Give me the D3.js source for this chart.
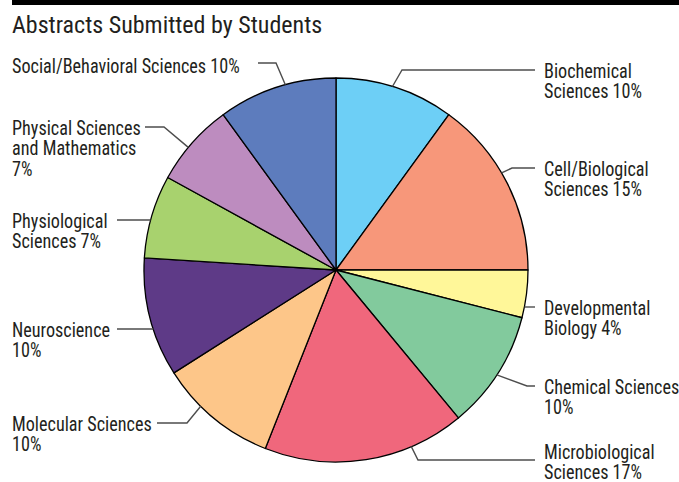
<!DOCTYPE html>
<html>
<head>
<meta charset="utf-8">
<script src="https://cdn.jsdelivr.net/npm/d3@7"></script>
<style>
  html, body { margin: 0; padding: 0; background: #fff; }
  svg text { font-family: "Liberation Sans Narrow", "Arial Narrow", "Roboto Condensed", sans-serif; fill: #231f20; }
</style>
</head>
<body>
<svg id="chart" width="679" height="482"></svg>
<script>
// Share of abstracts by field, clockwise from 12 o'clock
const categories = [
  "Biochemical Sciences", "Cell/Biological Sciences", "Developmental Biology",
  "Chemical Sciences", "Microbiological Sciences", "Molecular Sciences",
  "Neuroscience", "Physiological Sciences", "Physical Sciences and Mathematics",
  "Social/Behavioral Sciences"
];
const shares = [10, 15, 4, 10, 17, 10, 10, 7, 7, 10];
const labelLines = [
  ["Biochemical", "Sciences 10%"],
  ["Cell/Biological", "Sciences 15%"],
  ["Developmental", "Biology 4%"],
  ["Chemical Sciences", "10%"],
  ["Microbiological", "Sciences 17%"],
  ["Molecular Sciences", "10%"],
  ["Neuroscience", "10%"],
  ["Physiological", "Sciences 7%"],
  ["Physical Sciences", "and Mathematics", "7%"],
  ["Social/Behavioral Sciences 10%"]
];
const colors = ["#6dcff6", "#f7977a", "#fff799", "#82ca9d", "#f0677c",
                "#fdc689", "#5e3a87", "#a8d26e", "#bd8cbf", "#5d7cbd"];

// Leader layout: where each leader touches the rim (degrees clockwise from top),
// the height of its horizontal run, the elbow x, the far end of the run,
// and a vertical nudge for the label block.
const leaders = [
  { angle: 17.1,  y: 70,  elbowX: 402, endX: 535, side: "right", dy: 0 },
  { angle: 59.6,  y: 168, elbowX: 512, endX: 535, side: "right", dy: 0 },
  { angle: 101,   y: 307, elbowX: null, endX: 535, side: "right", dy: 0 },
  { angle: 123.1, y: 386, elbowX: 527, endX: 535, side: "right", dy: 0 },
  { angle: 156.9, y: 460, elbowX: 418, endX: 535, side: "right", dy: -9 },
  { angle: 224.8, y: 423, elbowX: 187, endX: 157, side: "left", dy: 0 },
  { angle: 252,   y: 329, elbowX: null, endX: 117, side: "left", dy: 0 },
  { angle: 285,   y: 220, elbowX: null, endX: 117, side: "left", dy: 0 },
  { angle: 309.7, y: 127, elbowX: 164, endX: 145, side: "left", dy: 0 },
  { angle: 344.7, y: 63,  elbowX: 276, endX: 258, side: "left", dy: 2 }
];

const svg = d3.select("#chart");
const cx = 336, cy = 270, radius = 192;
const labelSize = 21, labelSqueeze = 0.865, lineGap = 21;

// Heading rule and title
svg.append("rect").attr("x", 12).attr("y", 0).attr("width", 667).attr("height", 5).attr("fill", "#000");
svg.append("text").attr("x", 12).attr("y", 33).attr("font-size", 24).text("Abstracts Submitted by Students");

const data = categories.map((c, i) => ({ name: c, value: shares[i], color: colors[i], lines: labelLines[i], lead: leaders[i] }));

const pie = d3.pie().value(d => d.value).sort(null);
const arc = d3.arc().innerRadius(0).outerRadius(radius);

const g = svg.append("g").attr("transform", `translate(${cx},${cy})`);
g.selectAll("path.slice")
  .data(pie(data))
  .join("path")
  .attr("class", "slice")
  .attr("d", arc)
  .attr("fill", d => d.data.color)
  .attr("stroke", "#000")
  .attr("stroke-width", 1.3)
  .attr("stroke-linejoin", "round");

// Leader lines
const rim = a => {
  const t = a * Math.PI / 180;
  return [cx + radius * Math.sin(t), cy - radius * Math.cos(t)];
};
svg.selectAll("path.leader")
  .data(data)
  .join("path")
  .attr("class", "leader")
  .attr("fill", "none")
  .attr("stroke", "#4d4d4d")
  .attr("stroke-width", 1.4)
  .attr("d", d => {
    const L = d.lead;
    const p = rim(L.angle);
    if (L.elbowX === null) {
      return d3.line()([[p[0], L.y], [L.endX, L.y]]);
    }
    return d3.line()([p, [L.elbowX, L.y], [L.endX, L.y]]);
  });

// Labels, set in a condensed face
svg.selectAll("g.label")
  .data(data)
  .join("g")
  .attr("class", "label")
  .attr("transform", d => {
    const x0 = d.lead.side === "right" ? 544 : 12;
    return `translate(${x0},${d.lead.y + 7.5 + d.lead.dy}) scale(${labelSqueeze},1)`;
  })
  .each(function(d) {
    const t = d3.select(this).append("text").attr("font-size", labelSize);
    d.lines.forEach((s, i) => {
      t.append("tspan").attr("x", 0).attr("y", i * lineGap).text(s);
    });
  });
</script>
</body>
</html>
